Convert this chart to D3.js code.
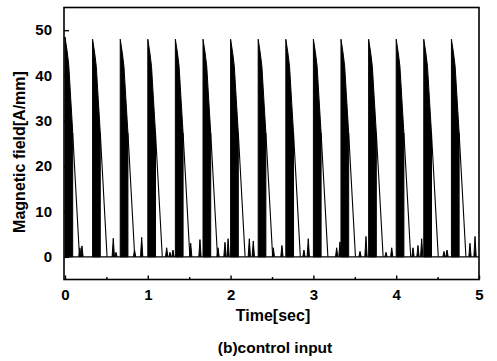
<!DOCTYPE html>
<html><head><meta charset="utf-8">
<script src="https://cdn.jsdelivr.net/npm/d3@7"></script>
<style>body{margin:0;background:#fff}svg{display:block}text{font-family:"Liberation Sans",Arial,sans-serif;fill:#000}</style>
</head><body><svg id="c" width="497" height="361"></svg>
<script>
// ---- data ----
const pulseTimes = [0, 0.333, 0.667, 1.0, 1.333, 1.667, 2.0, 2.333, 2.667, 3.0, 3.333, 3.667, 4.0, 4.333, 4.667];
const peakValues = [48.5, 48, 48, 48, 48, 48, 48, 48, 48, 48, 48, 48, 48, 48, 48];
// upper edge of the dense (black) switching band: [offset sec, value]
const bandEdge = [[0, 48], [0.025, 45], [0.045, 42], [0.069, 34.6], [0.093, 27.3]];
// decaying tail after the band: [offset sec, value]
const tailLine = [[0.093, 27.3], [0.13, 15], [0.175, 0]];
// small spikes on the zero level: [time sec, value]
const spikes = [[0.18,2.0],[0.205,2.4],[0.583,4.1],[0.616,1.0],[0.84,1.5],[0.926,4.3],
  [1.228,2.0],[1.268,1.0],[1.304,1.5],[1.518,3.0],[1.63,3.8],[1.848,2.0],[1.932,3.2],[1.97,4.0],
  [2.226,4.0],[2.274,3.5],[2.516,2.0],[2.62,2.5],[2.886,1.5],[2.938,4.0],[3.281,2.0],[3.321,3.3],
  [3.563,1.2],[3.635,4.5],[3.877,1.0],[3.946,2.0],[4.203,2.0],[4.263,2.5],[4.308,4.0],
  [4.577,1.2],[4.614,1.5],[4.891,3.0],[4.952,4.5]];
const xTicks = [0, 1, 2, 3, 4, 5];
const xMinor = [0.5, 1.5, 2.5, 3.5, 4.5];
const yTicks = [0, 10, 20, 30, 40, 50];
const xTitle = "Time[sec]", yTitle = "Magnetic field[A/mm]", caption = "(b)control input";

const svg = d3.select("#c");
const x = d3.scaleLinear().domain([0, 5]).range([65, 479]);
const y = d3.scaleLinear().domain([-5, 55]).range([279.5, 7.5]);
const g = svg.append("g");

// zero baseline
g.append("path").attr("d", d3.line()([[x(0), y(0)], [x(5), y(0)]]))
  .attr("stroke", "#000").attr("stroke-width", 1.4).attr("fill", "none");

const line = d3.line().x(d => x(d[0])).y(d => y(d[1]));
pulseTimes.forEach((t0, i) => {
  const k = peakValues[i] / 48;
  const pts = [[t0, 0]].concat(bandEdge.map(d => [t0 + d[0], d[1] * k])).concat([[t0 + bandEdge[bandEdge.length - 1][0], 0]]);
  g.append("path").attr("d", line(pts) + "Z").attr("fill", "#000").attr("stroke", "#000").attr("stroke-width", 1);
  g.append("path").attr("d", line(tailLine.map(d => [t0 + d[0], d[1]])))
    .attr("fill", "none").attr("stroke", "#000").attr("stroke-width", 1.1);
});
spikes.forEach(s => {
  g.append("path").attr("d", line([[s[0] - 0.014, 0], [s[0], s[1]], [s[0] + 0.014, 0]]))
    .attr("fill", "#000").attr("stroke", "#000").attr("stroke-width", 1);
});

// frame
svg.append("rect").attr("x", 64).attr("y", 7.5).attr("width", 415).attr("height", 272)
  .attr("fill", "none").attr("stroke", "#000").attr("stroke-width", 1.6);

// axes (ticks inward)
const xa = svg.append("g").attr("transform", `translate(0,${279.5})`)
  .call(d3.axisBottom(x).tickValues(xTicks).tickSizeInner(-4).tickSizeOuter(0).tickPadding(10).tickFormat(d3.format("d")));
svg.append("g").attr("transform", `translate(0,${279.5})`)
  .call(d3.axisBottom(x).tickValues(xMinor).tickSizeInner(-2.5).tickSizeOuter(0).tickFormat(""));
const ya = svg.append("g").attr("transform", `translate(64,0)`)
  .call(d3.axisLeft(y).tickValues(yTicks).tickSizeInner(-5).tickSizeOuter(0).tickPadding(12).tickFormat(d3.format("d")));
svg.selectAll(".domain").remove();
svg.selectAll(".tick line").attr("stroke", "#000").attr("stroke-width", 1.4);
svg.selectAll(".tick text").attr("font-family", "Liberation Sans, Arial, sans-serif")
  .attr("font-size", 15).attr("font-weight", "bold").attr("fill", "#000");

svg.append("text").attr("x", 273).attr("y", 321).attr("text-anchor", "middle")
  .attr("font-size", 16).attr("font-weight", "bold").text(xTitle);
svg.append("text").attr("transform", "translate(25,152) rotate(-90)").attr("text-anchor", "middle")
  .attr("font-size", 16).attr("font-weight", "bold").text(yTitle);
svg.append("text").attr("x", 275).attr("y", 353).attr("text-anchor", "middle")
  .attr("font-size", 15.5).attr("font-weight", "bold").text(caption);
</script></body></html>
